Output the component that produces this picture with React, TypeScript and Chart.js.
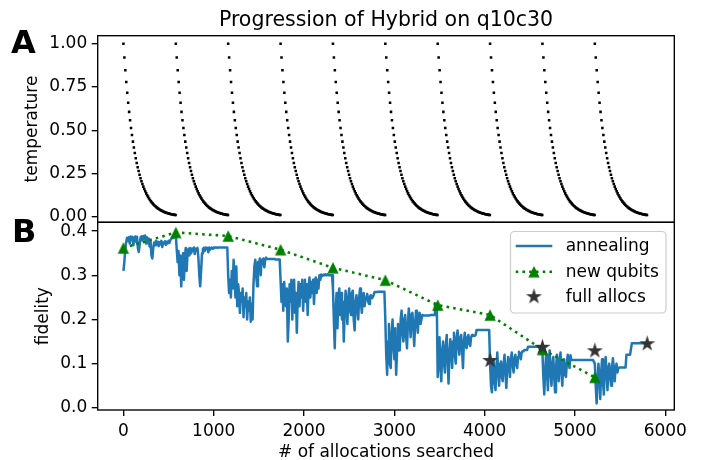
import React, { useEffect, useRef } from 'react';
import { Chart, registerables } from 'chart.js';

Chart.register(...registerables);

// ---------- data ----------
const xTickValues = [0, 1000, 2000, 3000, 4000, 5000, 6000];
const tempTickValues = [0, 0.25, 0.5, 0.75, 1.0];
const fidTickValues = [0, 0.1, 0.2, 0.3, 0.4];

// allocation index at which each annealing cycle (re)starts
const cycleStarts = [0, 580, 1160, 1740, 2320, 2900, 3480, 4060, 4640, 5220];

const tempSchedule = [
  1.0, 0.92, 0.846, 0.779, 0.716, 0.659, 0.606, 0.558, 0.513, 0.472,
  0.434, 0.4, 0.368, 0.338, 0.311, 0.286, 0.264, 0.243, 0.223, 0.205,
  0.189, 0.174, 0.16, 0.147, 0.135, 0.124, 0.115, 0.105, 0.097, 0.089,
  0.082, 0.076, 0.069, 0.064, 0.059, 0.054, 0.05, 0.046, 0.042, 0.039,
  0.036, 0.033, 0.03, 0.028, 0.026, 0.023, 0.022, 0.02, 0.018, 0.017,
  0.015, 0.014, 0.013, 0.012, 0.011, 0.01,
];
const tempStepAllocs = 10.5;

// annealing fidelity sampled every 10 allocations (0 .. 5800)
const annealStepAllocs = 10;
const annealFidelity = [
  // 0 - 570
  0.31, 0.33, 0.36, 0.375, 0.385, 0.378, 0.386, 0.372, 0.388, 0.38,
  0.387, 0.368, 0.384, 0.388, 0.376, 0.387, 0.362, 0.353, 0.37, 0.386,
  0.388, 0.379, 0.389, 0.383, 0.39, 0.372, 0.386, 0.375, 0.383, 0.365,
  0.378, 0.345, 0.338, 0.362, 0.374, 0.368, 0.378, 0.372, 0.376, 0.366,
  0.375, 0.37, 0.378, 0.364, 0.374, 0.372, 0.377, 0.369, 0.376, 0.372,
  0.378, 0.374, 0.38, 0.383, 0.385, 0.384, 0.386, 0.386,
  // 580 - 1150
  0.39, 0.36, 0.33, 0.355, 0.3, 0.345, 0.275, 0.32, 0.35, 0.29,
  0.34, 0.362, 0.31, 0.35, 0.36, 0.345, 0.362, 0.35, 0.36, 0.355,
  0.363, 0.348, 0.36, 0.357, 0.362, 0.34, 0.3, 0.275, 0.31, 0.35,
  0.36, 0.362, 0.355, 0.363, 0.36, 0.362, 0.352, 0.363, 0.358, 0.362,
  0.363, 0.36, 0.363, 0.362, 0.363, 0.363, 0.362, 0.363, 0.363, 0.363,
  0.363, 0.363, 0.363, 0.363, 0.363, 0.363, 0.363, 0.363,
  // 1160 - 1730
  0.3, 0.26, 0.29, 0.25, 0.31, 0.27, 0.335, 0.3, 0.25, 0.32,
  0.23, 0.28, 0.26, 0.215, 0.26, 0.24, 0.27, 0.205, 0.25, 0.23,
  0.26, 0.2, 0.24, 0.22, 0.25, 0.195, 0.235, 0.2, 0.28, 0.32,
  0.335, 0.3, 0.275, 0.33, 0.31, 0.338, 0.3, 0.335, 0.325, 0.338,
  0.318, 0.335, 0.34, 0.337, 0.337, 0.337, 0.337, 0.337, 0.337, 0.337,
  0.337, 0.337, 0.336, 0.336, 0.336, 0.336, 0.336, 0.336,
  // 1740 - 2310
  0.29, 0.24, 0.28, 0.22, 0.285, 0.25, 0.23, 0.27, 0.15, 0.2,
  0.28, 0.24, 0.29, 0.2, 0.27, 0.29, 0.215, 0.26, 0.17, 0.25,
  0.285, 0.23, 0.28, 0.25, 0.29, 0.22, 0.27, 0.29, 0.24, 0.28,
  0.21, 0.27, 0.295, 0.25, 0.285, 0.26, 0.29, 0.235, 0.28, 0.295,
  0.26, 0.29, 0.27, 0.3, 0.29, 0.302, 0.298, 0.3, 0.302, 0.3,
  0.302, 0.3, 0.302, 0.3, 0.3, 0.3, 0.3, 0.3,
  // 2320 - 2890
  0.27, 0.2, 0.135, 0.22, 0.26, 0.18, 0.25, 0.27, 0.21, 0.26,
  0.2, 0.24, 0.15, 0.22, 0.265, 0.23, 0.19, 0.25, 0.27, 0.22,
  0.21, 0.26, 0.265, 0.2, 0.175, 0.24, 0.255, 0.22, 0.2, 0.25,
  0.27, 0.24, 0.215, 0.255, 0.26, 0.23, 0.245, 0.25, 0.258, 0.24,
  0.235, 0.252, 0.255, 0.248, 0.25, 0.255, 0.262, 0.262, 0.262, 0.262,
  0.263, 0.263, 0.263, 0.263, 0.263, 0.263, 0.263, 0.263,
  // 2900 - 3470
  0.2, 0.12, 0.075, 0.15, 0.19, 0.1, 0.09, 0.17, 0.2, 0.14,
  0.11, 0.18, 0.075, 0.13, 0.19, 0.16, 0.13, 0.2, 0.22, 0.17,
  0.15, 0.2, 0.21, 0.16, 0.135, 0.19, 0.225, 0.2, 0.16, 0.21,
  0.215, 0.18, 0.14, 0.19, 0.22, 0.2, 0.17, 0.21, 0.215, 0.19,
  0.2, 0.21, 0.209, 0.209, 0.209, 0.209, 0.209, 0.209, 0.209, 0.209,
  0.21, 0.21, 0.21, 0.21, 0.21, 0.235, 0.235, 0.235,
  // 3480 - 4050
  0.07, 0.12, 0.16, 0.09, 0.06, 0.13, 0.15, 0.1, 0.08, 0.14,
  0.165, 0.11, 0.055, 0.12, 0.155, 0.13, 0.09, 0.15, 0.17, 0.12,
  0.1, 0.16, 0.175, 0.14, 0.12, 0.16, 0.165, 0.13, 0.09, 0.15,
  0.17, 0.14, 0.135, 0.16, 0.165, 0.145, 0.14, 0.16, 0.165, 0.163,
  0.163, 0.163, 0.165, 0.176, 0.176, 0.176, 0.176, 0.176, 0.176, 0.176,
  0.176, 0.176, 0.176, 0.176, 0.176, 0.176, 0.176, 0.176,
  // 4060 - 4630
  0.1, 0.05, 0.035, 0.08, 0.11, 0.06, 0.04, 0.09, 0.125, 0.08,
  0.05, 0.1, 0.105, 0.07, 0.06, 0.1, 0.12, 0.08, 0.045, 0.09,
  0.115, 0.1, 0.07, 0.11, 0.125, 0.1, 0.08, 0.11, 0.12, 0.1,
  0.09, 0.115, 0.127, 0.12, 0.11, 0.125, 0.128, 0.128, 0.131, 0.131,
  0.131, 0.131, 0.138, 0.138, 0.138, 0.138, 0.138, 0.138, 0.138, 0.138,
  0.138, 0.138, 0.138, 0.138, 0.138, 0.133, 0.133, 0.133,
  // 4640 - 5210
  0.125, 0.07, 0.03, 0.08, 0.12, 0.09, 0.04, 0.1, 0.13, 0.08,
  0.05, 0.1, 0.115, 0.07, 0.035, 0.09, 0.12, 0.1, 0.06, 0.11,
  0.125, 0.08, 0.05, 0.1, 0.11, 0.075, 0.07, 0.1, 0.12, 0.1,
  0.09, 0.119, 0.108, 0.108, 0.108, 0.108, 0.108, 0.108, 0.108, 0.108,
  0.108, 0.108, 0.108, 0.108, 0.108, 0.108, 0.108, 0.108, 0.108, 0.108,
  0.108, 0.108, 0.108, 0.108, 0.108, 0.108, 0.108, 0.108,
  // 5220 - 5800
  0.1, 0.05, 0.01, 0.06, 0.1, 0.07, 0.02, 0.08, 0.11, 0.06,
  0.03, 0.09, 0.115, 0.08, 0.04, 0.09, 0.1, 0.07, 0.05, 0.09,
  0.112, 0.09, 0.06, 0.09, 0.1, 0.08, 0.09, 0.091, 0.091, 0.091,
  0.091, 0.091, 0.091, 0.091, 0.091, 0.12, 0.12, 0.12, 0.12, 0.12,
  0.12, 0.146, 0.146, 0.146, 0.146, 0.146, 0.146, 0.146, 0.146, 0.146,
  0.146, 0.146, 0.146, 0.146, 0.146, 0.146, 0.146, 0.146, 0.146,
];

const newQubitAllocs = [0, 580, 1160, 1740, 2320, 2900, 3480, 4060, 4640, 5220];
const newQubitFidelity = [0.362, 0.397, 0.389, 0.358, 0.317, 0.289, 0.2325, 0.21, 0.132, 0.069];

const fullAllocAllocs = [4060, 4640, 5220, 5800];
const fullAllocFidelity = [0.107, 0.137, 0.129, 0.145];

const titleText = 'Progression of Hybrid on q10c30';
const xLabel = '# of allocations searched';
const topYLabel = 'temperature';
const botYLabel = 'fidelity';

// ---------- styling ----------
const FAMILY = '"DejaVu Sans"';
const TICK_FONT = { family: FAMILY, size: 17 };
const BLUE = '#1f77b4';
const GREEN = '#008000';
const STAR = '#333333';
const W = 703;
const H = 460;
const LEFT = 97.7;
const RIGHT_PAD = W - 674.3;
const TOP1 = 35.7;
const MID = 222.3;
const BOT = 410;
const XMIN = -285;
const XMAX = 6100;

function makeTriangle(color: string, half: number) {
  const c = document.createElement('canvas');
  const s = Math.ceil(half * 2 + 2);
  c.width = s;
  c.height = s;
  const g = c.getContext('2d')!;
  const cx = s / 2;
  g.fillStyle = color;
  g.beginPath();
  g.moveTo(cx, cx - half);
  g.lineTo(cx - half, cx + half);
  g.lineTo(cx + half, cx + half);
  g.closePath();
  g.fill();
  return c;
}

function makeStar(color: string, R: number) {
  const c = document.createElement('canvas');
  const s = Math.ceil(R * 2 + 2);
  c.width = s;
  c.height = s;
  const g = c.getContext('2d')!;
  const cx = s / 2;
  const r = R * 0.381966;
  g.fillStyle = color;
  g.beginPath();
  for (let i = 0; i < 10; i++) {
    const a = -Math.PI / 2 + (i * Math.PI) / 5;
    const rad = i % 2 === 0 ? R : r;
    const px = cx + Math.cos(a) * rad;
    const py = cx + Math.sin(a) * rad;
    if (i === 0) g.moveTo(px, py);
    else g.lineTo(px, py);
  }
  g.closePath();
  g.fill();
  return c;
}

const framePlugin = {
  id: 'frame',
  afterDatasetsDraw(chart: any) {
    const { ctx, chartArea: a } = chart;
    ctx.save();
    ctx.strokeStyle = '#000';
    ctx.lineWidth = 1.36;
    ctx.strokeRect(a.left, a.top, a.right - a.left, a.bottom - a.top);
    ctx.restore();
  },
};

function rotatedText(ctx: CanvasRenderingContext2D, text: string, x: number, y: number, font: string) {
  ctx.save();
  ctx.translate(x, y);
  ctx.rotate(-Math.PI / 2);
  ctx.font = font;
  ctx.fillStyle = '#000';
  ctx.textAlign = 'center';
  ctx.textBaseline = 'alphabetic';
  ctx.fillText(text, 0, 0);
  ctx.restore();
}

export default function App() {
  const topRef = useRef<HTMLCanvasElement | null>(null);
  const botRef = useRef<HTMLCanvasElement | null>(null);

  useEffect(() => {
    const tri = makeTriangle(GREEN, 5.7);
    const star = makeStar(STAR, 8.4);

    const tempPoints: { x: number; y: number }[] = [];
    cycleStarts.forEach((start) => {
      tempSchedule.forEach((t, k) => tempPoints.push({ x: start + k * tempStepAllocs, y: t }));
    });
    const annealPoints = annealFidelity.map((y, i) => ({ x: i * annealStepAllocs, y }));
    const qubitPoints = newQubitAllocs.map((x, i) => ({ x, y: newQubitFidelity[i] }));
    const fullPoints = fullAllocAllocs.map((x, i) => ({ x, y: fullAllocFidelity[i] }));

    const yTickCommon = (pad: number) => ({
      font: TICK_FONT,
      color: '#000',
      padding: pad,
    });
    const gridCommon = {
      drawOnChartArea: false,
      drawTicks: true,
      tickLength: 6,
      color: '#000',
      lineWidth: 1.36,
    };

    const topTexts = {
      id: 'topTexts',
      afterDraw(chart: any) {
        const ctx = chart.ctx as CanvasRenderingContext2D;
        ctx.save();
        ctx.fillStyle = '#000';
        ctx.font = `20.5px ${FAMILY}`;
        ctx.textAlign = 'center';
        ctx.textBaseline = 'alphabetic';
        ctx.fillText(titleText, (chart.chartArea.left + chart.chartArea.right) / 2, 26);
        ctx.font = `bold 32px ${FAMILY}`;
        ctx.textAlign = 'left';
        ctx.fillText('A', 11, 53);
        ctx.restore();
        rotatedText(ctx, topYLabel, 37, (TOP1 + MID) / 2, `17px ${FAMILY}`);
      },
    };

    const botTexts = {
      id: 'botTexts',
      afterDraw(chart: any) {
        const ctx = chart.ctx as CanvasRenderingContext2D;
        const a = chart.chartArea;
        ctx.save();
        ctx.fillStyle = '#000';
        ctx.font = `bold 32px ${FAMILY}`;
        ctx.textAlign = 'left';
        ctx.textBaseline = 'alphabetic';
        ctx.fillText('B', 12, 242);
        ctx.font = `17px ${FAMILY}`;
        ctx.textAlign = 'center';
        ctx.fillText(xLabel, (a.left + a.right) / 2, 457);
        ctx.restore();
        rotatedText(ctx, botYLabel, 47.5, (MID + BOT) / 2, `17px ${FAMILY}`);

        // legend
        const ds = chart.data.datasets;
        const bx = 510.5, by = 231.5, bw = 155.5, bh = 81.5, br = 4;
        ctx.save();
        ctx.beginPath();
        ctx.moveTo(bx + br, by);
        ctx.lineTo(bx + bw - br, by);
        ctx.arcTo(bx + bw, by, bx + bw, by + br, br);
        ctx.lineTo(bx + bw, by + bh - br);
        ctx.arcTo(bx + bw, by + bh, bx + bw - br, by + bh, br);
        ctx.lineTo(bx + br, by + bh);
        ctx.arcTo(bx, by + bh, bx, by + bh - br, br);
        ctx.lineTo(bx, by + br);
        ctx.arcTo(bx, by, bx + br, by, br);
        ctx.closePath();
        ctx.fillStyle = 'rgba(255,255,255,0.8)';
        ctx.fill();
        ctx.strokeStyle = '#cccccc';
        ctx.lineWidth = 1.2;
        ctx.stroke();

        const hx0 = 515.7, hx1 = 552.3, hxm = (hx0 + hx1) / 2, tx = 565.7;
        const rows = [246, 271.7, 296.7];
        ctx.strokeStyle = BLUE;
        ctx.lineWidth = 2.5;
        ctx.beginPath();
        ctx.moveTo(hx0, rows[0]);
        ctx.lineTo(hx1, rows[0]);
        ctx.stroke();
        ctx.strokeStyle = GREEN;
        ctx.setLineDash([2.55, 4.2]);
        ctx.beginPath();
        ctx.moveTo(hx0, rows[1]);
        ctx.lineTo(hx1, rows[1]);
        ctx.stroke();
        ctx.setLineDash([]);
        ctx.drawImage(tri, hxm - tri.width / 2, rows[1] - tri.height / 2);
        ctx.drawImage(star, hxm - star.width / 2, rows[2] - star.height / 2);

        ctx.fillStyle = '#000';
        ctx.font = `17px ${FAMILY}`;
        ctx.textAlign = 'left';
        ctx.textBaseline = 'alphabetic';
        ctx.fillText(ds[0].label, tx, rows[0] + 5.2);
        ctx.fillText(ds[1].label, tx, rows[1] + 5.2);
        ctx.fillText(ds[2].label, tx, rows[2] + 5.2);
        ctx.restore();
      },
    };

    const topChart = new Chart(topRef.current!, {
      type: 'scatter',
      data: {
        datasets: [
          {
            label: 'temperature',
            data: tempPoints,
            pointStyle: 'rect',
            pointRadius: 1.8,
            pointBorderWidth: 0,
            pointBackgroundColor: '#000',
            borderWidth: 0,
          } as any,
        ],
      },
      options: {
        responsive: false,
        animation: false,
        events: [],
        layout: { padding: { left: 0, right: RIGHT_PAD, top: TOP1, bottom: H - MID } },
        plugins: { legend: { display: false }, tooltip: { enabled: false } },
        scales: {
          x: { type: 'linear', display: false, min: XMIN, max: XMAX },
          y: {
            type: 'linear',
            min: -0.032,
            max: 1.046,
            afterFit: (s: any) => { s.width = LEFT; },
            afterBuildTicks: (s: any) => { s.ticks = tempTickValues.map((v) => ({ value: v })); },
            ticks: { ...yTickCommon(4.5), callback: (v: any) => Number(v).toFixed(2) },
            grid: gridCommon,
            border: { display: false },
          },
        },
      } as any,
      plugins: [framePlugin, topTexts],
    });

    const botChart = new Chart(botRef.current!, {
      type: 'scatter',
      data: {
        datasets: [
          {
            label: 'annealing',
            data: annealPoints,
            showLine: true,
            borderColor: BLUE,
            borderWidth: 2.5,
            borderJoinStyle: 'round',
            pointRadius: 0,
            order: 3,
          },
          {
            label: 'new qubits',
            data: qubitPoints,
            showLine: true,
            borderColor: GREEN,
            borderWidth: 2.55,
            borderDash: [2.55, 4.2],
            pointStyle: tri,
            pointRadius: 6,
            order: 2,
          },
          {
            label: 'full allocs',
            data: fullPoints,
            showLine: false,
            pointStyle: star,
            pointRadius: 8,
            order: 1,
          },
        ] as any,
      },
      options: {
        responsive: false,
        animation: false,
        events: [],
        layout: { padding: { left: 0, right: RIGHT_PAD, top: MID, bottom: 0 } },
        plugins: { legend: { display: false }, tooltip: { enabled: false } },
        scales: {
          x: {
            type: 'linear',
            min: XMIN,
            max: XMAX,
            afterFit: (s: any) => { s.height = H - BOT; },
            afterBuildTicks: (s: any) => { s.ticks = xTickValues.map((v) => ({ value: v })); },
            ticks: { font: TICK_FONT, color: '#000', padding: 5, maxRotation: 0, autoSkip: false, callback: (v: any) => String(v) },
            grid: gridCommon,
            border: { display: false },
          },
          y: {
            type: 'linear',
            min: -0.005,
            max: 0.42,
            afterFit: (s: any) => { s.width = LEFT; },
            afterBuildTicks: (s: any) => { s.ticks = fidTickValues.map((v) => ({ value: v })); },
            ticks: { ...yTickCommon(4.5), callback: (v: any) => Number(v).toFixed(1) },
            grid: gridCommon,
            border: { display: false },
          },
        },
      } as any,
      plugins: [framePlugin, botTexts],
    });

    return () => {
      topChart.destroy();
      botChart.destroy();
    };
  }, []);

  const canvasStyle: React.CSSProperties = { position: 'absolute', left: 0, top: 0, width: W, height: H };
  return (
    <div style={{ position: 'absolute', left: 0, top: 0, width: W, height: H, background: '#fff' }}>
      <canvas ref={topRef} width={W} height={H} style={canvasStyle} />
      <canvas ref={botRef} width={W} height={H} style={canvasStyle} />
    </div>
  );
}
